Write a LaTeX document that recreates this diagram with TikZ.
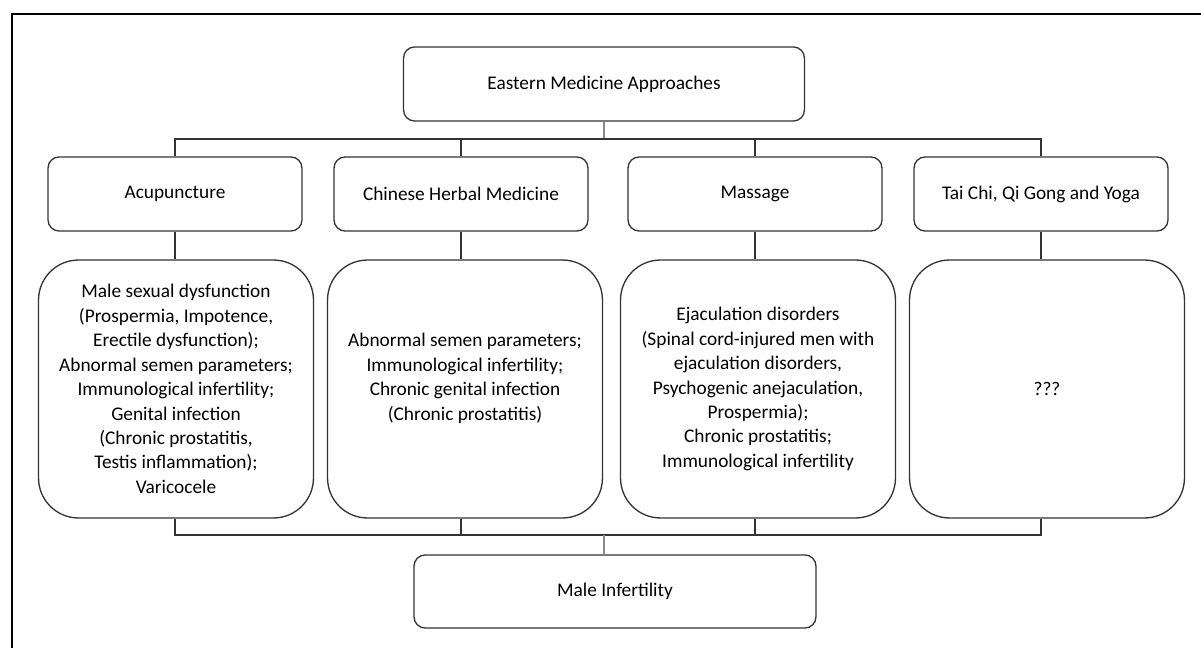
\documentclass[tikz,border=0pt]{standalone}
\usepackage{fontspec}
\setmainfont{Carlito}

\begin{document}
\begin{tikzpicture}[x=0.02cm, y=-0.02cm,
    every node/.style={font=\fontsize{11}{13.9}\selectfont, text=black},
    headbox/.style={draw=black!80, line width=0.75pt, rounded corners=0.22cm, minimum height=1.48cm, inner sep=0pt},
    topbox/.style={headbox, minimum width=5.08cm},
    listbox/.style={draw=black!80, line width=0.75pt, rounded corners=0.8cm, minimum width=5.5cm, minimum height=5.16cm, inner sep=0pt, align=center},
    link/.style={draw=black!80, line width=0.75pt},
    stem/.style={draw=black!45, line width=0.8pt}]
      \clip (0,0) rectangle (1201,648);
      \draw[line width=1.1pt] (12,14) rectangle (1230,680);
      % top and bottom boxes
      \node (EMA) at (604,84) [headbox, minimum width=8.02cm] {Eastern Medicine Approaches};
      \node (MI) at (615,591.5) [headbox, minimum width=8.04cm, minimum height=1.46cm] {Male Infertility};
      % the four approaches
      \node (Acu) at (175,194) [topbox] {Acupuncture};
      \node (CHM) at (461,194) [topbox] {Chinese Herbal Medicine};
      \node (Mas) at (755,194) [topbox] {Massage};
      \node (TQY) at (1041,194) [topbox] {Tai Chi, Qi Gong and Yoga};
      % what each one treats
      \node (AcuD) at (176,389) [listbox] {Male sexual dysfunction\\(Prospermia, Impotence,\\Erectile dysfunction);\\Abnormal semen parameters;\\Immunological infertility;\\Genital infection\\(Chronic prostatitis,\\Testis inflammation);\\Varicocele};
      \node (CHMD) at (465,389) [listbox] {Abnormal semen parameters;\\Immunological infertility;\\Chronic genital infection\\(Chronic prostatitis)\\~};
      \node (MasD) at (758,389) [listbox] {Ejaculation disorders\\(Spinal cord-injured men with\\ejaculation disorders,\\Psychogenic anejaculation,\\Prospermia);\\Chronic prostatitis;\\Immunological infertility};
      \node (TQYD) at (1047,389) [listbox] {???};
      \coordinate (tb) at (0,139);
      \coordinate (bb) at (0,535);
      \draw[stem] (EMA.south) to (EMA.south |- tb);
      \draw[link] (Acu.north) to (Acu.north |- tb) to (TQY.north |- tb) to (TQY.north)
      (CHM.north) to (CHM.north |- tb) (Mas.north) to (Mas.north |- tb);
      \draw[link] (Acu.south) to (Acu.south |- AcuD.north) (CHM.south) to (CHM.south |- CHMD.north)
      (Mas.south) to (Mas.south |- MasD.north) (TQY.south) to (TQY.south |- TQYD.north);
      \draw[link] (Acu.south |- AcuD.south) to (Acu.south |- bb) to (TQY.south |- bb) to (TQY.south |- TQYD.south)
      (CHM.south |- CHMD.south) to (CHM.south |- bb) (Mas.south |- MasD.south) to (Mas.south |- bb);
      \draw[stem] (EMA.south |- bb) to (EMA.south |- MI.north);
    \end{tikzpicture}
\end{document}
